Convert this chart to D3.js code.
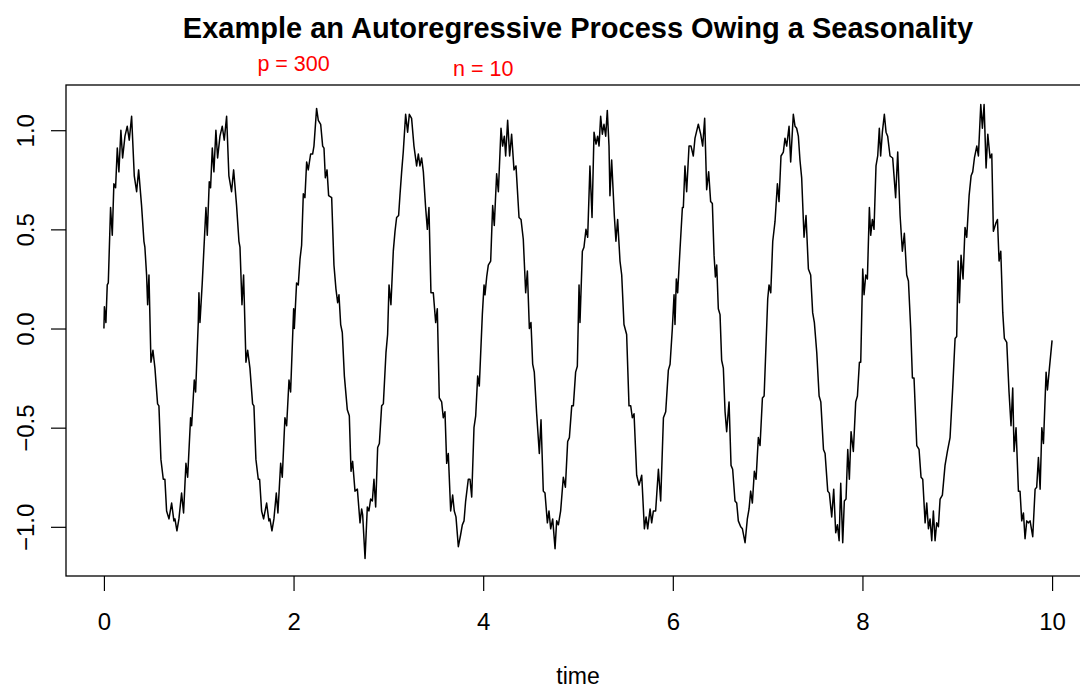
<!DOCTYPE html>
<html>
<head>
<meta charset="utf-8">
<script src="https://cdn.jsdelivr.net/npm/d3@7"></script>
<style>
  html, body { margin: 0; padding: 0; background: #fff; }
  svg { display: block; font-family: "Liberation Sans", Arial, Helvetica, sans-serif; }
</style>
</head>
<body>
<svg id="chart" width="1080" height="689"></svg>
<script>
const titleText = "Example an Autoregressive Process Owing a Seasonality";
const xLabel = "time";
const notes = ["p = 300", "n = 10"];
const notePos = [2, 4];
const xTicks = [0, 2, 4, 6, 8, 10];
const yTicks = [-1, -0.5, 0, 0.5, 1];
const yTickLabels = ["\u22121.0", "\u22120.5", "0.0", "0.5", "1.0"];

const time = [
  0,0.005,0.021,0.035,0.046,0.070,0.088,0.105,0.123,0.141,0.158,0.179,0.197,0.222,0.246,0.267,0.292,0.320,0.345,0.366,0.397,0.422,0.432,0.450,0.461,0.475,0.496,0.517,0.538,0.566,0.580,0.601,0.626,0.643,0.661,0.686,0.714,0.738,0.749,0.770,0.791,0.819,0.840,0.865,0.883,0.914,0.925,0.953,0.967,0.995,
  1.002,1.013,1.037,1.076,1.090,1.111,1.125,1.143,1.160,1.181,1.199,1.224,1.248,1.269,1.294,1.318,1.346,1.368,1.399,1.424,1.435,1.456,1.473,1.498,1.516,1.540,1.568,1.582,1.603,1.628,1.642,1.663,1.684,1.716,1.740,1.751,1.772,1.793,1.818,1.835,1.864,1.881,1.909,1.927,1.952,1.969,2.001,2.008,2.032,2.050,
  2.068,2.085,2.103,2.120,2.138,2.155,2.180,2.201,2.215,2.243,2.261,2.286,2.307,2.321,2.335,2.353,2.370,2.402,2.426,2.447,2.465,2.479,2.497,2.514,2.536,2.567,2.588,2.606,2.623,2.648,2.673,2.701,2.718,2.729,2.754,2.778,2.795,2.813,2.831,2.848,2.866,2.887,2.905,2.929,2.947,2.975,2.992,3.007,3.027,3.052,3.070,3.087,3.108,3.122,3.140,3.157,3.182,
  3.203,3.221,3.245,3.270,3.298,3.316,3.333,3.351,3.369,3.393,3.411,3.428,3.449,3.474,3.499,3.516,3.537,3.562,3.579,3.597,3.615,3.632,3.657,3.678,3.695,3.713,3.738,3.762,3.780,3.798,3.815,3.843,3.861,3.879,3.903,3.921,3.942,3.959,3.991,4.009,4.019,4.037,4.054,4.079,4.100,4.117,4.142,4.160,4.188,4.205,4.223,4.237,4.258,4.279,4.300,
  4.325,4.346,4.378,4.399,4.423,4.448,4.466,4.487,4.504,4.522,4.539,4.564,4.592,4.610,4.634,4.652,4.677,4.694,4.712,4.733,4.758,4.775,4.793,4.817,4.845,4.867,4.891,4.909,4.934,4.951,4.975,4.993,5.011,5.021,5.046,5.063,5.084,5.102,5.126,5.148,5.169,5.190,5.207,5.222,5.239,5.257,5.274,5.292,5.309,5.327,5.337,5.355,5.383,5.400,5.418,
  5.443,5.461,5.485,5.513,5.538,5.556,5.573,5.591,5.619,5.644,5.672,5.700,5.718,5.735,5.760,5.777,5.795,5.819,5.848,5.872,5.901,5.925,5.953,5.971,5.995,6.013,6.023,6.037,6.051,6.076,6.101,6.111,6.128,6.146,6.171,6.192,6.216,6.234,6.269,6.294,6.315,6.336,6.357,6.378,6.399,6.417,6.435,6.449,6.463,6.480,6.498,
  6.515,6.533,6.551,6.568,6.593,6.614,6.631,6.656,6.674,6.691,6.716,6.734,6.762,6.786,6.804,6.821,6.839,6.860,6.878,6.902,6.920,6.945,6.963,6.984,7.001,7.015,7.033,7.054,7.078,7.103,7.120,7.141,7.166,7.183,7.201,7.226,7.243,7.271,7.289,7.306,7.324,7.341,7.359,7.384,7.405,7.430,7.454,7.475,7.493,7.518,7.543,7.561,7.589,
  7.606,7.634,7.651,7.676,7.697,7.718,7.736,7.754,7.771,7.792,7.809,7.827,7.845,7.862,7.880,7.904,7.929,7.947,7.968,7.982,8.003,8.017,8.035,8.052,8.073,8.087,8.105,8.122,8.143,8.161,8.178,8.192,8.210,8.231,8.249,8.266,8.291,8.319,8.350,8.372,8.397,8.421,8.442,8.467,8.485,8.509,8.527,8.544,8.573,8.597,8.618,8.636,8.661,8.678,8.696,
  8.713,8.731,8.748,8.766,8.783,8.801,8.819,8.843,8.871,8.896,8.924,8.952,8.977,8.994,9.009,9.023,9.040,9.061,9.082,9.100,9.125,9.146,9.163,9.181,9.206,9.223,9.248,9.265,9.283,9.304,9.322,9.346,9.364,9.381,9.406,9.424,9.441,9.459,9.480,9.497,9.522,9.546,9.567,9.585,9.599,9.620,9.645,9.662,9.680,9.698,9.715,9.733,9.750,9.768,9.796,9.821,9.838,9.856,9.874,9.892,9.909,9.937,9.951,9.972,10.0
];

const value = [
  0.00,0.11,0.03,0.22,0.23,0.61,0.47,0.73,0.71,0.91,0.79,1.00,0.86,0.97,1.02,0.95,1.07,0.77,0.69,0.80,0.62,0.44,0.41,0.27,0.12,0.27,-0.17,-0.11,-0.20,-0.38,-0.39,-0.66,-0.76,-0.76,-0.92,-0.96,-0.88,-0.97,-0.96,-1.02,-0.96,-0.83,-0.93,-0.68,-0.75,-0.45,-0.49,-0.26,-0.32,0.03,
  0.18,0.03,0.23,0.61,0.47,0.74,0.71,0.91,0.79,1.00,0.86,0.97,1.02,0.95,1.07,0.77,0.69,0.80,0.62,0.44,0.41,0.12,0.27,-0.17,-0.11,-0.20,-0.38,-0.39,-0.66,-0.76,-0.76,-0.92,-0.96,-0.88,-0.97,-0.96,-1.02,-0.96,-0.83,-0.93,-0.68,-0.75,-0.45,-0.49,-0.26,-0.32,0.10,0.00,0.23,0.22,
  0.35,0.42,0.68,0.66,0.84,0.80,0.88,0.88,0.92,1.11,1.05,1.03,0.92,0.91,0.76,0.80,0.67,0.66,0.32,0.20,0.13,0.17,0.02,-0.02,-0.24,-0.41,-0.44,-0.72,-0.67,-0.82,-0.81,-0.98,-0.91,-0.94,-1.16,-0.90,-0.92,-0.86,-0.87,-0.76,-0.90,-0.60,-0.58,-0.39,-0.38,-0.12,-0.03,0.22,0.12,0.39,0.49,0.56,0.57,0.67,0.79,0.89,1.08,
  0.99,1.08,1.06,0.92,0.82,0.88,0.82,0.86,0.79,0.61,0.50,0.61,0.18,0.18,0.03,0.10,-0.35,-0.37,-0.45,-0.42,-0.68,-0.63,-0.92,-0.84,-0.92,-0.95,-1.10,-1.04,-0.99,-0.97,-0.87,-0.76,-0.76,-0.85,-0.50,-0.44,-0.24,-0.29,0.07,0.22,0.17,0.26,0.32,0.34,0.62,0.52,0.78,0.69,1.01,0.92,0.97,0.87,1.05,0.87,0.98,
  0.80,0.82,0.56,0.55,0.45,0.18,0.29,0.00,0.03,-0.18,-0.22,-0.43,-0.63,-0.46,-0.82,-0.83,-0.98,-0.92,-1.01,-0.96,-1.11,-0.97,-0.99,-0.92,-0.75,-0.80,-0.57,-0.55,-0.39,-0.39,-0.22,-0.19,0.22,0.03,0.39,0.41,0.50,0.46,0.82,0.56,0.99,0.93,0.97,0.92,1.07,0.98,1.03,0.97,1.10,0.92,0.67,0.85,0.57,0.44,0.55,
  0.34,0.27,0.02,-0.03,-0.39,-0.39,-0.45,-0.43,-0.74,-0.79,-0.74,-1.01,-0.95,-1.01,-0.91,-0.98,-0.92,-0.92,-0.71,-0.87,-0.45,-0.42,-0.21,-0.18,0.00,0.17,0.02,0.25,0.18,0.40,0.61,0.61,0.82,0.69,0.92,0.92,0.87,0.96,1.03,0.98,0.92,1.06,0.70,0.79,0.64,0.63,0.37,0.26,0.32,0.10,0.07,
  -0.16,-0.20,-0.42,-0.52,-0.37,-0.69,-0.71,-0.87,-0.88,-0.97,-1.00,-1.01,-1.08,-0.96,-0.91,-0.82,-0.88,-0.72,-0.76,-0.55,-0.59,-0.35,-0.34,-0.07,0.15,0.22,0.18,0.44,0.54,0.73,0.64,0.87,0.89,0.96,0.92,1.02,0.84,1.08,1.02,1.01,0.97,0.85,0.76,0.46,0.57,0.30,0.27,0.08,0.03,-0.12,-0.34,-0.37,-0.61,
  -0.63,-0.82,-0.83,-0.95,-0.81,-1.03,-0.99,-1.07,-0.78,-1.08,-0.87,-0.86,-0.61,-0.76,-0.52,-0.62,-0.37,-0.34,-0.17,-0.17,0.30,0.17,0.27,0.25,0.61,0.47,0.55,0.50,0.82,0.87,1.01,0.87,0.99,1.08,0.99,0.97,0.87,0.86,0.66,0.89,0.57,0.39,0.48,0.27,0.24,0.00,-0.25,-0.25,-0.59,-0.61,-0.75,-0.76,-0.98,-0.88,-1.01,
  -0.96,-1.07,-0.92,-1.07,-0.98,-1.00,-0.86,-0.84,-0.69,-0.62,-0.55,-0.30,-0.05,-0.04,0.34,0.13,0.37,0.25,0.51,0.46,0.67,0.77,0.79,0.86,0.92,0.87,1.13,1.01,1.13,0.81,0.98,0.86,0.88,0.49,0.53,0.55,0.34,0.39,0.08,-0.05,-0.07,-0.32,-0.49,-0.30,-0.62,-0.50,-0.82,-0.82,-0.97,-0.93,-1.06,-0.97,-0.98,-0.97,-1.05,-0.81,-0.80,-0.65,-0.81,-0.50,-0.58,-0.22,-0.31,-0.20,-0.06
];

(function () {
  const svg = d3.select("#chart");
  const mLeft = 66, mRight = 1090, mTop = 85, mBottom = 576;

  const x = d3.scaleLinear().domain([-0.4, 10.4]).range([mLeft, mRight]);
  const y = d3.scaleLinear().domain([-1.248, 1.228]).range([mBottom, mTop]);

  const n = Math.min(time.length, value.length);
  const data = d3.range(n).map(i => [time[i], value[i]]);

  // series line
  svg.append("path")
    .datum(data)
    .attr("fill", "none")
    .attr("stroke", "#000")
    .attr("stroke-width", 1.5)
    .attr("stroke-linejoin", "round")
    .attr("d", d3.line().x(d => x(d[0])).y(d => y(d[1])));

  // box
  svg.append("rect")
    .attr("x", mLeft).attr("y", mTop)
    .attr("width", mRight - mLeft).attr("height", mBottom - mTop)
    .attr("fill", "none").attr("stroke", "#000").attr("stroke-width", 1.3);

  // x axis
  const xAxis = svg.append("g")
    .attr("transform", `translate(0,${mBottom})`)
    .call(d3.axisBottom(x).tickValues(xTicks).tickSize(15).tickPadding(22).tickFormat(d3.format("d")));
  xAxis.select(".domain").remove();
  xAxis.selectAll("line").attr("stroke", "#000").attr("stroke-width", 1.2);
  xAxis.selectAll("text").attr("font-size", 24).attr("fill", "#000")
    .attr("font-family", "Liberation Sans, Arial, sans-serif");

  // y axis
  const yAxis = svg.append("g")
    .attr("transform", `translate(${mLeft},0)`)
    .call(d3.axisLeft(y).tickValues(yTicks).tickSize(15).tickFormat((d, i) => yTickLabels[i]));
  yAxis.select(".domain").remove();
  yAxis.selectAll("line").attr("stroke", "#000").attr("stroke-width", 1.2);
  yAxis.selectAll("text")
    .attr("font-size", 24).attr("fill", "#000")
    .attr("font-family", "Liberation Sans, Arial, sans-serif")
    .attr("text-anchor", "middle")
    .attr("transform", "rotate(-90)")
    .attr("x", 0).attr("y", -(mLeft - 34)).attr("dy", 0);

  // title
  svg.append("text")
    .attr("x", (mLeft + mRight) / 2).attr("y", 38)
    .attr("text-anchor", "middle")
    .attr("font-size", 29).attr("font-weight", "bold")
    .text(titleText);

  // red notes
  svg.selectAll("text.note")
    .data(notes)
    .enter().append("text")
    .attr("class", "note")
    .attr("x", (d, i) => x(notePos[i]))
    .attr("y", (d, i) => i === 0 ? 71 : 75.5)
    .attr("text-anchor", "middle")
    .attr("font-size", 21.5)
    .attr("fill", "#ff0000")
    .text(d => d);

  // x label
  svg.append("text")
    .attr("x", (mLeft + mRight) / 2).attr("y", 684)
    .attr("text-anchor", "middle")
    .attr("font-size", 23)
    .text(xLabel);
})();
</script>
</body>
</html>
